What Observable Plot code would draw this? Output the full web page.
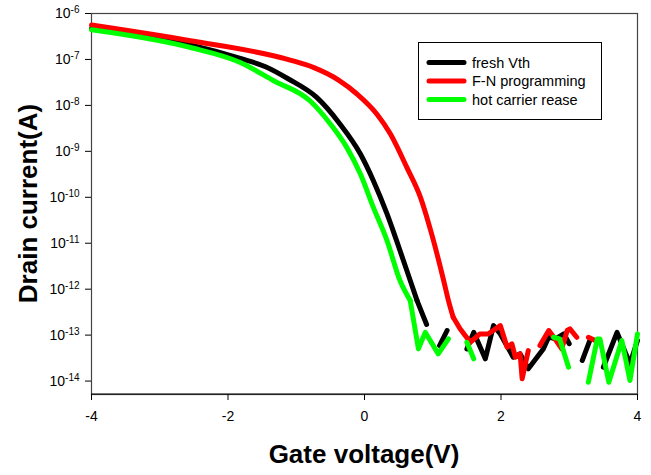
<!DOCTYPE html>
<html>
<head>
<meta charset="utf-8">
<script src="https://cdn.jsdelivr.net/npm/d3@7"></script>
<script src="https://cdn.jsdelivr.net/npm/@observablehq/plot@0.6"></script>
<style>
  html, body { margin: 0; padding: 0; background: #fff; }
  #chart { width: 651px; height: 475px; }
  svg { font-family: "Liberation Sans", Arial, sans-serif; }
</style>
</head>
<body>
<div id="chart"></div>
<script>
// ---- data ----
const seriesNames = ["fresh Vth", "F-N programming", "hot carrier rease"];
const seriesColors = ["#000000", "#ff0000", "#00ff00"];

// fresh Vth (null = gap in the measured trace)
const vBlack = [-4.00, -2.55, -1.82, -1.45, -1.12, -0.70, -0.36, -0.06, 0.13, 0.33, 0.47, 0.67, 0.77, 0.91, 1.00, 1.10, 1.21, 1.35, 1.50, 1.60, 1.77, 1.89, 1.99, 2.18, 2.28, 2.40, 2.62, 2.70, 2.80, 2.92, 3.00, 3.10, 3.19, 3.31, 3.40, 3.50, 3.70, 3.79, 3.89, 4.00];
const iBlack = [4.72e-7, 2.06e-7, 1.05e-7, 6.93e-8, 3.80e-8, 1.49e-8, 3.94e-9, 8.75e-10, 2.30e-10, 4.34e-11, 1.14e-11, 1.54e-12, 5.65e-13, 1.70e-13, null, 5.93e-14, 1.26e-13, null, 5.0e-14, 1.15e-13, 3.05e-14, 1.61e-13, 1.06e-13, 3.30e-14, 3.91e-14, 1.85e-14, 5.0e-14, 9.1e-14, 8.3e-14, 1.07e-13, 6.5e-14, null, 2.80e-14, 8.28e-14, null, 2.0e-14, 1.15e-13, 5.44e-14, 2.37e-14, 7.62e-14];

// F-N programming
const vRed = [-4.00, -2.55, -1.09, -0.75, -0.38, -0.11, 0.18, 0.38, 0.62, 0.82, 0.97, 1.16, 1.23, 1.30, 1.40, 1.55, 1.69, 1.81, 1.99, 2.09, 2.16, 2.21, 2.28, 2.31, 2.40, 2.48, 2.57, 2.70, 2.79, 2.89, 2.97, 3.01, 3.11, 3.20, 3.28, 3.38];
const iRed = [5.60e-7, 2.55e-7, 9.7e-8, 6.7e-8, 3.55e-8, 1.77e-8, 6.49e-9, 2.38e-9, 4.48e-10, 9.95e-11, 1.88e-11, 1.54e-12, 5.65e-13, 2.44e-13, 1.37e-13, 7.0e-14, 1.06e-13, 1.06e-13, 1.61e-13, 5.44e-14, 6.46e-14, 3.30e-14, 3.91e-14, 1.12e-14, 4.61e-14, null, 5.93e-14, 1.26e-13, 8.3e-14, 5.02e-14, 1.26e-13, 1.37e-13, 8.97e-14, null, 8.97e-14, 7.62e-14];

// hot carrier rease
const vGreen = [-4.00, -2.55, -1.82, -1.33, -0.80, -0.50, -0.26, -0.06, 0.13, 0.33, 0.52, 0.67, 0.79, 0.89, 1.08, 1.23, 1.36, 1.50, 1.60, 2.20, 2.77, 2.86, 2.99, 3.13, 3.28, 3.41, 3.45, 3.58, 3.77, 3.89, 4.00];
const iGreen = [4.43e-7, 1.82e-7, 8.59e-8, 3.44e-8, 1.26e-8, 3.94e-9, 1.22e-9, 3.21e-10, 6.04e-11, 1.14e-11, 1.54e-12, 5.65e-13, 5.02e-14, 1.15e-13, 3.91e-14, 8.28e-14, null, 7.0e-14, 3.05e-14, null, 8.97e-14, 8.28e-14, 2.0e-14, null, 9.44e-15, 8.28e-14, 8.28e-14, 9.44e-15, 7.62e-14, 1.03e-14, 1.06e-13];

// voltage where each smooth subthreshold trace turns into the noise floor
const noiseStart = [0.77, 1.30, 0.67];

const xTicks = [-4, -2, 0, 2, 4];
const yTickExponents = [-6, -7, -8, -9, -10, -11, -12, -13, -14];
const xDomain = [-4, 4];
const yDomain = [5.1e-15, 1e-6];

const xTitle = "Gate voltage(V)";
const yTitle = "Drain current(A)";

// ---- build ----
const toRows = (vs, is) => vs.map((v, k) => ({v, i: is[k]}));
const rows = [toRows(vBlack, iBlack), toRows(vRed, iRed), toRows(vGreen, iGreen)];
const yTicks = yTickExponents.map(e => Math.pow(10, e));

const W = 651, H = 475;
const mL = 91, mR = 14, mT = 13, mB = 81;

const lineMarks = [];
rows.forEach((r, k) => {
  const common = {x: "v", y: "i", stroke: seriesColors[k], strokeWidth: 5,
    strokeLinejoin: "round", strokeLinecap: "round"};
  lineMarks.push(Plot.line(r.filter(d => d.v <= noiseStart[k]), {...common, curve: "monotone-x"}));
  lineMarks.push(Plot.line(r.filter(d => d.v >= noiseStart[k]), {...common, curve: "linear"}));
});

const plot = Plot.plot({
  width: W,
  height: H,
  marginLeft: mL,
  marginRight: mR,
  marginTop: mT,
  marginBottom: mB,
  style: {fontFamily: "'Liberation Sans', Arial, sans-serif", background: "#fff", color: "#000"},
  x: {domain: xDomain},
  y: {type: "log", domain: yDomain},
  marks: [
    Plot.frame({stroke: "#444", strokeWidth: 1.2}),
    Plot.axisX({ticks: xTicks, tickSize: 6, tickPadding: 11, fontSize: 14, label: null, tickFormat: d => String(d)}),
    Plot.axisY({ticks: yTicks, tickSize: 6, tickPadding: 6, fontSize: 14, label: null,
      tickFormat: d => "10^" + Math.round(Math.log10(d))}),
    ...lineMarks
  ]
});

document.getElementById("chart").appendChild(plot);
const svg = d3.select(plot);

// superscript tick labels
svg.selectAll('g[aria-label="y-axis tick label"] text').each(function() {
  const t = d3.select(this);
  const s = t.text();
  if (!s.startsWith("10^")) return;
  const exp = s.slice(3);
  t.text(null);
  t.append("tspan").text("10");
  t.append("tspan").attr("dy", "-0.5em").attr("font-size", "10px").text(exp);
});

// bottom axis line in black
svg.append("line")
  .attr("x1", mL).attr("x2", W - mR)
  .attr("y1", H - mB).attr("y2", H - mB)
  .attr("stroke", "#000").attr("stroke-width", 1.2);

// axis titles
svg.append("text")
  .attr("x", (mL + W - mR) / 2)
  .attr("y", 463)
  .attr("text-anchor", "middle")
  .attr("font-size", "26px")
  .attr("font-weight", "bold")
  .attr("fill", "#000")
  .text(xTitle);

svg.append("text")
  .attr("transform", `translate(37,${(mT + H - mB) / 2}) rotate(-90)`)
  .attr("text-anchor", "middle")
  .attr("font-size", "26px")
  .attr("font-weight", "bold")
  .attr("fill", "#000")
  .text(yTitle);

// legend
const lg = svg.append("g").attr("class", "legend");
lg.append("rect")
  .attr("x", 418.5).attr("y", 42.5).attr("width", 183).attr("height", 77)
  .attr("fill", "#fff").attr("stroke", "#000").attr("stroke-width", 1);
const rowY = [62.5, 81, 99.5];
seriesNames.forEach((name, k) => {
  lg.append("line")
    .attr("x1", 429).attr("x2", 464)
    .attr("y1", rowY[k]).attr("y2", rowY[k])
    .attr("stroke", seriesColors[k]).attr("stroke-width", 5)
    .attr("stroke-linecap", "round");
  lg.append("text")
    .attr("x", 472).attr("y", rowY[k] + 5)
    .attr("text-anchor", "start")
    .attr("font-size", "14.5px")
    .attr("fill", "#000")
    .text(name);
});
</script>
</body>
</html>
